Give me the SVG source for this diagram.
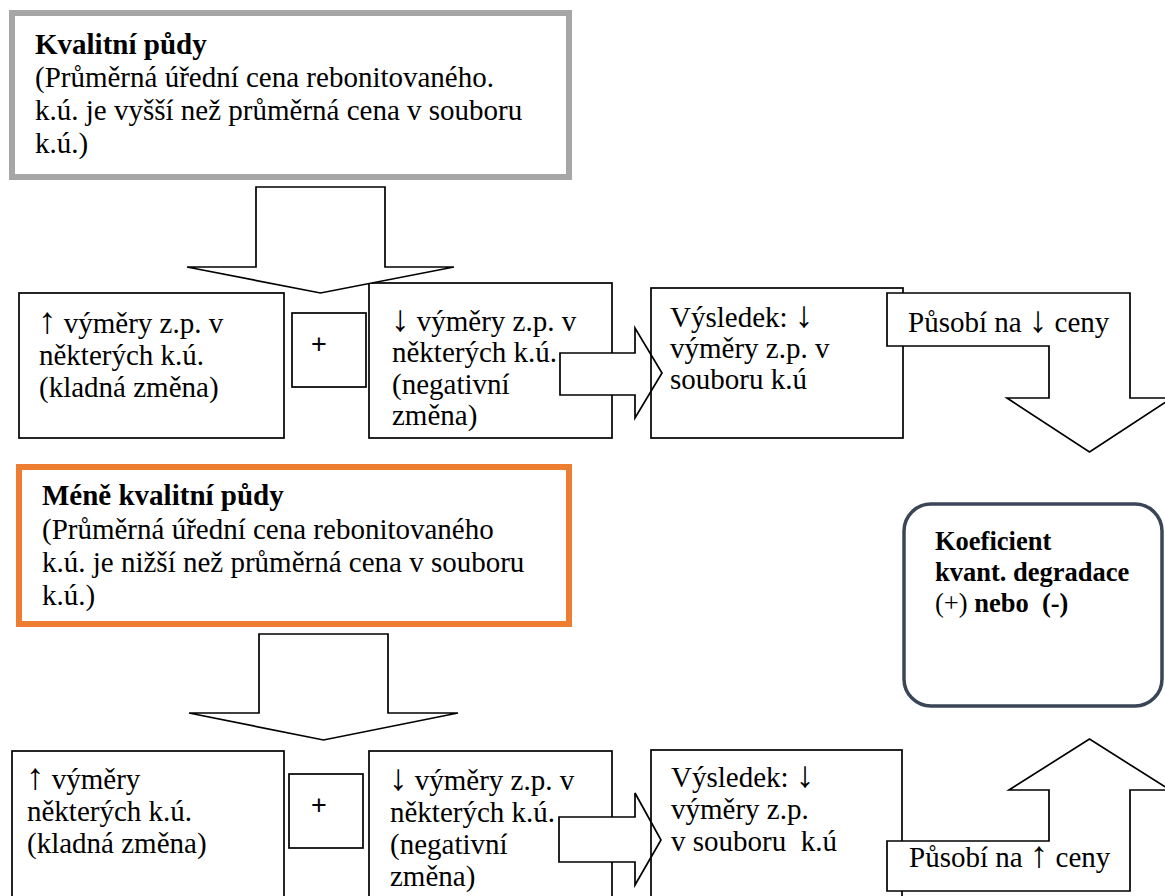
<svg xmlns="http://www.w3.org/2000/svg" width="1165" height="896" viewBox="0 0 1165 896">
<style>
.t{font-family:"Liberation Serif","Times New Roman",serif;font-size:29px;fill:#000;white-space:pre}
.b{font-weight:bold}
.ar{font-size:37px}
.k{font-family:"Liberation Serif","Times New Roman",serif;font-size:26.5px;font-weight:bold;fill:#000;white-space:pre}
.p{font-family:"Liberation Sans",Arial,sans-serif;fill:#000}
.box{fill:#fff;stroke:#000;stroke-width:1.7}
.open{fill:none;stroke:#000;stroke-width:1.7}
.arr{fill:#fff;stroke:#000;stroke-width:1.7;stroke-linejoin:miter}
</style>
<rect width="1165" height="896" fill="#fff"/>
<g id="kvalitni">
<rect x="12" y="13" width="557" height="164" fill="#fff" stroke="#a6a6a6" stroke-width="6"/>
<text class="t b" x="35" y="54">Kvalitní půdy</text>
<text class="t" x="35" y="87">(Průměrná úřední cena rebonitovaného.</text>
<text class="t" x="35" y="120">k.ú. je vyšší než průměrná cena v souboru</text>
<text class="t" x="35" y="153">k.ú.)</text>
</g>
<g id="a1">
<rect class="box" x="19" y="293" width="265" height="145"/>
<text class="t" x="38" y="333"><tspan class="ar">↑</tspan> výměry z.p. v</text>
<text class="t" x="39" y="365">některých k.ú.</text>
<text class="t" x="39" y="397">(kladná změna)</text>
</g>
<g id="plus1">
<rect class="box" x="292" y="313" width="74" height="74"/>
<text class="p" x="319" y="353" font-size="27" text-anchor="middle">+</text>
</g>
<g id="b1">
<rect class="box" x="369" y="283" width="243" height="155"/>
<text class="t" x="391" y="331"><tspan class="ar">↓</tspan> výměry z.p. v</text>
<text class="t" x="392" y="362">některých k.ú.</text>
<text class="t" x="392" y="394">(negativní</text>
<text class="t" x="392" y="425">změna)</text>
</g>
<g id="mene">
<rect x="19" y="467" width="550" height="157" fill="#fff" stroke="#ed7d31" stroke-width="6"/>
<text class="t b" x="42" y="505">Méně kvalitní půdy</text>
<text class="t" x="42" y="539">(Průměrná úřední cena rebonitovaného</text>
<text class="t" x="42" y="572">k.ú. je nižší než průměrná cena v souboru</text>
<text class="t" x="42" y="605">k.ú.)</text>
</g>
<g id="koeficient">
<rect x="904" y="504" width="258" height="202" rx="27" ry="27" fill="#fff" stroke="#3a4657" stroke-width="3.5"/>
<text class="k" x="935" y="550">Koeficient</text>
<text class="k" x="935" y="581">kvant. degradace</text>
<text class="k" x="935" y="612"><tspan font-weight="normal">(+)</tspan> nebo  (-)</text>
</g>
<g id="a2">
<rect class="box" x="12" y="751" width="272" height="160"/>
<text class="t" x="26" y="789"><tspan class="ar">↑</tspan> výměry</text>
<text class="t" x="27" y="821">některých k.ú.</text>
<text class="t" x="27" y="853">(kladná změna)</text>
</g>
<g id="plus2">
<rect class="box" x="289" y="774" width="74" height="74"/>
<text class="p" x="319" y="814" font-size="27" text-anchor="middle">+</text>
</g>
<g id="b2">
<rect class="box" x="369" y="751" width="243" height="160"/>
<text class="t" x="389" y="790"><tspan class="ar">↓</tspan> výměry z.p. v</text>
<text class="t" x="390" y="822">některých k.ú.</text>
<text class="t" x="390" y="854">(negativní</text>
<text class="t" x="390" y="886">změna)</text>
</g>
<g id="connectors">
<polygon class="arr" points="256,187 385,187 385,267 454,267 320.5,293 187,267 256,267"/>
<polygon class="arr" points="560,353 635,353 635,328 662,373 635,418 635,395 560,395"/>
<polygon class="arr" points="259,634 388,634 388,713 458,713 323.5,740 189,713 259,713"/>
<polygon class="arr" points="559,817 635,817 635,793 661,840 635,885 635,862 559,862"/>
</g>
<g id="r1">
<rect class="open" x="651" y="288" width="252" height="150"/>
<text class="t" x="670" y="327">Výsledek: <tspan class="ar">↓</tspan></text>
<text class="t" x="670" y="358">výměry z.p. v</text>
<text class="t" x="670" y="389">souboru k.ú</text>
</g>
<g id="r2">
<rect class="open" x="651" y="750" width="251" height="160"/>
<text class="t" x="671" y="787">Výsledek: <tspan class="ar">↓</tspan></text>
<text class="t" x="671" y="819">výměry z.p.</text>
<text class="t" x="671" y="851">v souboru  k.ú</text>
</g>
<g id="pusobi-dolu">
<polygon class="arr" points="887,293 1130,293 1130,398 1172,398 1089.5,452 1007,398 1049,398 1049,346 887,346"/>
<text class="t" x="908" y="332">Působí na <tspan class="ar">↓</tspan> ceny</text>
</g>
<g id="pusobi-nahoru">
<polygon class="arr" points="887,891 1130,891 1130,790 1170,790 1089.5,739 1009,790 1049,790 1049,841 887,841"/>
<text class="t" x="909" y="867">Působí na <tspan class="ar">↑</tspan> ceny</text>
</g>
</svg>
